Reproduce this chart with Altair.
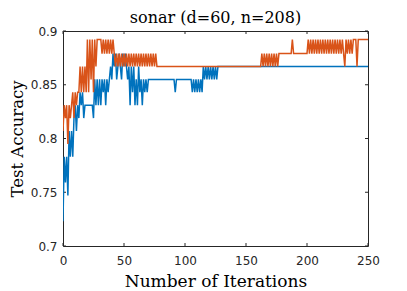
import altair as alt
import pandas as pd

# ---------------- data ----------------
iterations = list(range(251))

blue_acc = [
    0.723, 0.783, 0.759, 0.783, 0.747, 0.807, 0.783, 0.807, 0.783, 0.819, 0.831, 0.807, 0.831, 0.819, 0.843, 0.831, 0.843, 0.819, 0.831, 0.831,
    0.831, 0.831, 0.831, 0.831, 0.831, 0.819, 0.855, 0.831, 0.855, 0.831, 0.855, 0.831, 0.855, 0.843, 0.855, 0.831, 0.855, 0.843, 0.855, 0.867,
    0.855, 0.879, 0.867, 0.879, 0.855, 0.867, 0.879, 0.867, 0.855, 0.879, 0.867, 0.879, 0.867, 0.855, 0.867, 0.831, 0.867, 0.843, 0.867, 0.831,
    0.855, 0.831, 0.867, 0.843, 0.855, 0.831, 0.855, 0.843, 0.855, 0.843, 0.855, 0.855, 0.855, 0.855, 0.855, 0.855, 0.855, 0.855, 0.855, 0.855,
    0.855, 0.855, 0.855, 0.855, 0.855, 0.855, 0.855, 0.855, 0.855, 0.855, 0.855, 0.855, 0.843, 0.855, 0.855, 0.855, 0.855, 0.855, 0.855, 0.855,
    0.855, 0.855, 0.855, 0.855, 0.855, 0.855, 0.843, 0.855, 0.843, 0.855, 0.843, 0.855, 0.843, 0.855, 0.843, 0.867, 0.855, 0.867, 0.855, 0.867,
    0.855, 0.867, 0.855, 0.867, 0.855, 0.867, 0.855, 0.867, 0.867, 0.867, 0.867, 0.867, 0.867, 0.867, 0.867, 0.867, 0.867, 0.867, 0.867, 0.867,
    0.867, 0.867, 0.867, 0.867, 0.867, 0.867, 0.867, 0.867, 0.867, 0.867, 0.867, 0.867, 0.867, 0.867, 0.867, 0.867, 0.867, 0.867, 0.867, 0.867,
    0.867, 0.867, 0.867, 0.867, 0.867, 0.867, 0.867, 0.867, 0.867, 0.867, 0.867, 0.867, 0.867, 0.867, 0.867, 0.867, 0.867, 0.867, 0.867, 0.867,
    0.867, 0.867, 0.867, 0.867, 0.867, 0.867, 0.867, 0.867, 0.867, 0.867, 0.867, 0.867, 0.867, 0.867, 0.867, 0.867, 0.867, 0.867, 0.867, 0.867,
    0.867, 0.867, 0.867, 0.867, 0.867, 0.867, 0.867, 0.867, 0.867, 0.867, 0.867, 0.867, 0.867, 0.867, 0.867, 0.867, 0.867, 0.867, 0.867, 0.867,
    0.867, 0.867, 0.867, 0.867, 0.867, 0.867, 0.867, 0.867, 0.867, 0.867, 0.867, 0.867, 0.867, 0.867, 0.867, 0.867, 0.867, 0.867, 0.867, 0.867,
    0.867, 0.867, 0.867, 0.867, 0.867, 0.867, 0.867, 0.867, 0.867, 0.867, 0.867,
]

orange_acc = [
    0.807, 0.831, 0.819, 0.831, 0.795, 0.831, 0.819, 0.831, 0.843, 0.819, 0.843, 0.831, 0.843, 0.843, 0.867, 0.843, 0.867, 0.843, 0.867, 0.843,
    0.892, 0.843, 0.892, 0.855, 0.892, 0.843, 0.892, 0.867, 0.892, 0.892, 0.892, 0.892, 0.879, 0.892, 0.879, 0.892, 0.879, 0.892, 0.879, 0.892,
    0.879, 0.892, 0.879, 0.867, 0.879, 0.867, 0.879, 0.867, 0.879, 0.867, 0.879, 0.867, 0.879, 0.867, 0.879, 0.867, 0.879, 0.867, 0.879, 0.867,
    0.879, 0.867, 0.879, 0.867, 0.879, 0.867, 0.879, 0.867, 0.879, 0.867, 0.879, 0.867, 0.879, 0.867, 0.879, 0.867, 0.879, 0.867, 0.867, 0.867,
    0.867, 0.867, 0.867, 0.867, 0.867, 0.867, 0.867, 0.867, 0.867, 0.867, 0.867, 0.867, 0.867, 0.867, 0.867, 0.867, 0.867, 0.867, 0.867, 0.867,
    0.867, 0.867, 0.867, 0.867, 0.867, 0.867, 0.867, 0.867, 0.867, 0.867, 0.867, 0.867, 0.867, 0.867, 0.867, 0.867, 0.867, 0.867, 0.867, 0.867,
    0.867, 0.867, 0.867, 0.867, 0.867, 0.867, 0.867, 0.867, 0.867, 0.867, 0.867, 0.867, 0.867, 0.867, 0.867, 0.867, 0.867, 0.867, 0.867, 0.867,
    0.867, 0.867, 0.867, 0.867, 0.867, 0.867, 0.867, 0.867, 0.867, 0.867, 0.867, 0.867, 0.867, 0.867, 0.867, 0.867, 0.867, 0.867, 0.867, 0.867,
    0.867, 0.867, 0.867, 0.879, 0.867, 0.879, 0.867, 0.879, 0.867, 0.879, 0.867, 0.879, 0.867, 0.879, 0.867, 0.879, 0.867, 0.879, 0.879, 0.879,
    0.879, 0.879, 0.879, 0.879, 0.879, 0.879, 0.879, 0.879, 0.892, 0.879, 0.879, 0.879, 0.879, 0.879, 0.879, 0.879, 0.879, 0.879, 0.879, 0.879,
    0.879, 0.892, 0.879, 0.892, 0.879, 0.892, 0.879, 0.892, 0.879, 0.892, 0.879, 0.892, 0.879, 0.892, 0.879, 0.892, 0.879, 0.892, 0.879, 0.892,
    0.879, 0.892, 0.879, 0.892, 0.879, 0.892, 0.879, 0.892, 0.879, 0.892, 0.879, 0.867, 0.892, 0.879, 0.892, 0.879, 0.892, 0.879, 0.892, 0.892,
    0.892, 0.867, 0.892, 0.892, 0.892, 0.892, 0.892, 0.892, 0.892, 0.892, 0.892,
]

x_ticks = [0, 50, 100, 150, 200, 250]
y_ticks = [0.7, 0.75, 0.8, 0.85, 0.9]

title_text = ["sonar (d=60, n=208)"]
x_title = "Number of Iterations"
y_title = "Test Accuracy"

# ---------------- chart ----------------
W, H = 305, 215
AX = "#262626"

df_blue = pd.DataFrame({"iter": iterations, "acc": blue_acc})
df_orange = pd.DataFrame({"iter": iterations, "acc": orange_acc})
df_xt = pd.DataFrame({"t": x_ticks})
df_yt = pd.DataFrame({"v": y_ticks})
df_title = pd.DataFrame({"label": title_text})

xscale = alt.Scale(domain=[0, 250], nice=False, zero=False)
yscale = alt.Scale(domain=[0.7, 0.9], nice=False, zero=False)

xaxis = alt.Axis(
    values=x_ticks, title=x_title, grid=False, domain=False, ticks=False, tickSize=0,
    labelFont="DejaVu Sans", labelFontSize=12, labelColor=AX, labelPadding=9, labelFlush=False,
    titleFont="DejaVu Serif", titleFontSize=17, titleFontWeight="normal", titleColor="black",
    titleY=40, titleBaseline="alphabetic",
)
yaxis = alt.Axis(
    values=y_ticks, format=".2~f", title=y_title, grid=False, domain=False, ticks=False, tickSize=0,
    labelFont="DejaVu Sans", labelFontSize=12, labelColor=AX, labelPadding=6, labelFlush=False,
    titleFont="DejaVu Serif", titleFontSize=16.5, titleFontWeight="normal", titleColor="black",
    titleX=-41, titleY=H / 2, titleAngle=270, titleAlign="center", titleBaseline="alphabetic",
)

xt_bot = alt.Chart(df_xt).mark_rule(color=AX, strokeWidth=1).encode(
    x=alt.X("t:Q", scale=xscale, axis=xaxis), y=alt.value(H), y2=alt.value(H - 3))
xt_top = alt.Chart(df_xt).mark_rule(color=AX, strokeWidth=1).encode(
    x=alt.X("t:Q", scale=xscale, axis=xaxis), y=alt.value(0), y2=alt.value(3))
yt_left = alt.Chart(df_yt).mark_rule(color=AX, strokeWidth=1).encode(
    y=alt.Y("v:Q", scale=yscale, axis=yaxis), x=alt.value(0), x2=alt.value(3))
yt_right = alt.Chart(df_yt).mark_rule(color=AX, strokeWidth=1).encode(
    y=alt.Y("v:Q", scale=yscale, axis=yaxis), x=alt.value(W), x2=alt.value(W - 3))

blue = alt.Chart(df_blue).mark_line(color="#0072BD", strokeWidth=1.5, clip=True).encode(
    x=alt.X("iter:Q", scale=xscale, axis=xaxis), y=alt.Y("acc:Q", scale=yscale, axis=yaxis))
orange = alt.Chart(df_orange).mark_line(color="#D95319", strokeWidth=1.5, clip=True).encode(
    x=alt.X("iter:Q", scale=xscale, axis=xaxis), y=alt.Y("acc:Q", scale=yscale, axis=yaxis))

title_mark = alt.Chart(df_title).mark_text(
    font="DejaVu Serif", fontSize=16, fontWeight="normal", color="black",
    align="center", baseline="alphabetic",
).encode(text="label:N", x=alt.value(W / 2), y=alt.value(-8))

chart = alt.layer(xt_bot, xt_top, yt_left, yt_right, blue, orange, title_mark).properties(
    width=W, height=H,
    autosize=alt.AutoSizeParams(type="none"),
    padding={"left": 55, "top": 23, "right": 31, "bottom": 45},
    background="white",
).configure_view(stroke=AX, strokeWidth=1)

chart.save("out.html", embed_options={"renderer": "svg", "actions": False})
